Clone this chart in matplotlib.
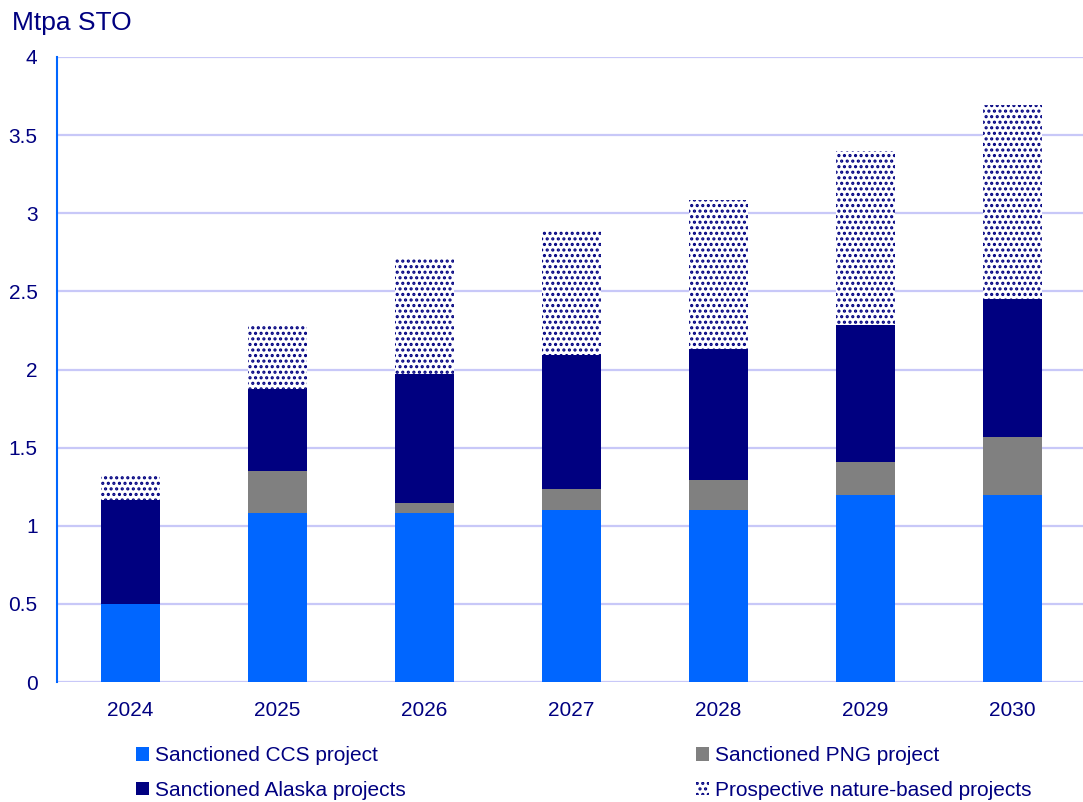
import matplotlib.pyplot as plt
import numpy as np

plt.rcParams['font.family'] = ['Liberation Sans', 'DejaVu Sans']
plt.rcParams['hatch.linewidth'] = 1.5

years = ['2024', '2025', '2026', '2027', '2028', '2029', '2030']
ccs = [0.50, 1.08, 1.08, 1.10, 1.10, 1.20, 1.20]
png = [0.00, 0.27, 0.065, 0.135, 0.19, 0.21, 0.37]
alaska = [0.665, 0.525, 0.825, 0.855, 0.84, 0.875, 0.88]
prospective = [0.16, 0.405, 0.74, 0.795, 0.955, 1.115, 1.24]

NAVY = '#000080'
BLUE = '#0066ff'
GREY = '#808080'
GRID = '#c8c8f8'

fig = plt.figure(figsize=(10.83, 8.02), dpi=100)
ax = fig.add_axes([57 / 1083, 120 / 802, 1026 / 1083, 625 / 802])

x = np.arange(len(years))
w = 0.4
bottom = np.zeros(len(years))

b1 = ax.bar(x, ccs, w, bottom=bottom, color=BLUE, label='Sanctioned CCS project', zorder=3)
bottom += ccs
b2 = ax.bar(x, png, w, bottom=bottom, color=GREY, label='Sanctioned PNG project', zorder=3)
bottom += png
b3 = ax.bar(x, alaska, w, bottom=bottom, color=NAVY, label='Sanctioned Alaska projects', zorder=3)
bottom += alaska
b4 = ax.bar(x, prospective, w, bottom=bottom, color='white', edgecolor=NAVY,
            hatch='...', linewidth=0, label='Prospective nature-based projects', zorder=3)

ax.set_ylim(0, 4)
ax.set_xlim(-0.5, 6.48)
ax.set_yticks([0, 0.5, 1, 1.5, 2, 2.5, 3, 3.5, 4])
ax.set_yticklabels(['0', '0.5', '1', '1.5', '2', '2.5', '3', '3.5', '4'])
ax.set_xticks(x)
ax.set_xticklabels(years)
ax.tick_params(axis='both', length=0, labelsize=15, colors=NAVY)
ax.tick_params(axis='y', pad=14)
ax.tick_params(axis='x', pad=14)
ax.grid(axis='y', color=GRID, linewidth=1.6, zorder=0)
for s in ['top', 'right', 'bottom']:
    ax.spines[s].set_visible(False)
ax.spines['left'].set_color(BLUE)
ax.spines['left'].set_linewidth(1.5)

fig.text(12 / 1083, 1 - 23 / 802, 'Mtpa STO', fontsize=19, color=NAVY, va='center', ha='left')

leg_kw = dict(frameon=False, fontsize=15, handlelength=0.6, handleheight=0.6,
              handletextpad=0.3, labelspacing=0.75, labelcolor=NAVY, borderpad=0,
              loc='upper left')
fig.legend([b1, b3], [b1.get_label(), b3.get_label()],
           bbox_to_anchor=(126 / 1083, 1 - 736 / 802), **leg_kw)
fig.legend([b2, b4], [b2.get_label(), b4.get_label()],
           bbox_to_anchor=(686 / 1083, 1 - 736 / 802), **leg_kw)

fig.savefig('out.png', dpi=100)
